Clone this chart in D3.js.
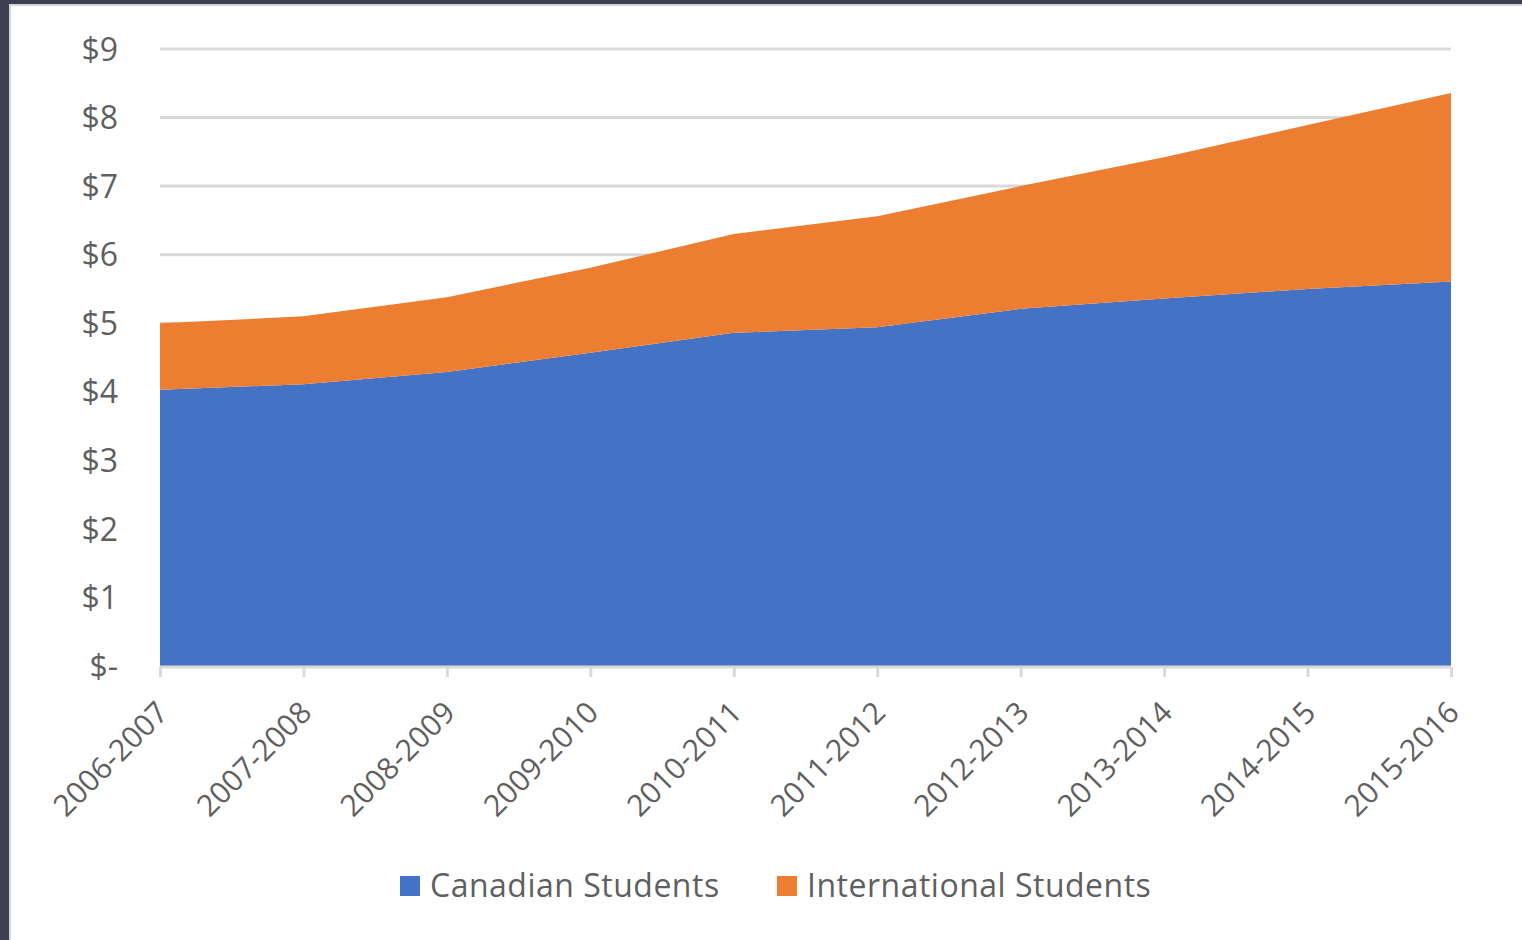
<!DOCTYPE html>
<html>
<head>
<meta charset="utf-8">
<script src="https://cdn.jsdelivr.net/npm/d3@7"></script>
<style>
  html, body { margin: 0; padding: 0; background: #3f3f53; }
  svg { display: block; }
</style>
</head>
<body>
<svg id="chart" width="1522" height="940"></svg>
<script>
// Tuition revenue (billions of dollars) by academic year
const years = ["2006-2007", "2007-2008", "2008-2009", "2009-2010", "2010-2011",
               "2011-2012", "2012-2013", "2013-2014", "2014-2015", "2015-2016"];
const canadian      = [4.03, 4.11, 4.29, 4.57, 4.86, 4.94, 5.21, 5.36, 5.50, 5.61];
const international = [0.97, 0.99, 1.09, 1.24, 1.44, 1.62, 1.79, 2.06, 2.39, 2.75];
const yTicks = [0, 1, 2, 3, 4, 5, 6, 7, 8, 9];
const seriesNames = ["Canadian Students", "International Students"];
const colors = ["#4472c4", "#ed7d31"];

const svg = d3.select("#chart");
const W = 1522, H = 940;

// panel background with a thin frame
svg.append("rect").attr("x", 0).attr("y", 0).attr("width", W).attr("height", H).attr("fill", "#3f3f53");
svg.append("rect").attr("x", 9).attr("y", 4).attr("width", W - 9).attr("height", H - 4).attr("fill", "#d6d6d6");
svg.append("rect").attr("x", 11).attr("y", 6).attr("width", W - 11).attr("height", H - 6).attr("fill", "#ffffff");

const plot = { left: 160, right: 1451, top: 49, bottom: 666 };
const x = d3.scalePoint().domain(years).range([plot.left, plot.right]);
const y = d3.scaleLinear().domain([0, 9]).range([plot.bottom, plot.top]);

const font = "'Open Sans', 'Noto Sans', sans-serif";
const textColor = "#5f5f5f";

// horizontal gridlines
svg.append("g").selectAll("line").data(yTicks.filter(d => d > 0)).join("line")
  .attr("x1", plot.left).attr("x2", plot.right)
  .attr("y1", d => y(d)).attr("y2", d => y(d))
  .attr("stroke", "#d9d9d9").attr("stroke-width", 3);

// stacked areas
const rows = years.map((yr, i) => ({ year: yr, c: canadian[i], n: international[i] }));
const stack = d3.stack().keys(["c", "n"]);
const layers = stack(rows);
const area = d3.area()
  .x(d => x(d.data.year))
  .y0(d => y(d[0]))
  .y1(d => y(d[1]));
svg.append("g").selectAll("path").data(layers).join("path")
  .attr("d", area)
  .attr("fill", (d, i) => colors[i]);

// y axis labels
const yAxis = d3.axisLeft(y).tickValues(yTicks)
  .tickFormat(d => d === 0 ? "$-" : "$" + d).tickSize(0).tickPadding(0);
const gy = svg.append("g").attr("transform", `translate(118,0)`).call(yAxis);
gy.select(".domain").remove();
gy.selectAll("text")
  .attr("font-family", font).attr("font-size", 32).attr("fill", textColor)
  .attr("dy", "0.35em");

// x axis
const xAxis = d3.axisBottom(x).tickSize(10).tickPadding(6);
const gx = svg.append("g").attr("transform", `translate(0,${plot.bottom + 1})`).call(xAxis);
gx.select(".domain").attr("stroke", "#d9d9d9").attr("stroke-width", 3)
  .attr("d", `M${plot.left},0H${plot.right}`);
gx.selectAll(".tick line").attr("stroke", "#d9d9d9").attr("stroke-width", 3);
gx.selectAll("text")
  .attr("font-family", font).attr("font-size", 30).attr("fill", textColor)
  .attr("text-anchor", "end")
  .attr("dy", "0.35em")
  .attr("transform", "translate(2,40) rotate(-45)")
  .attr("x", 0).attr("y", 0);

// legend
const legendItems = [
  { name: seriesNames[0], color: colors[0], x: 400 },
  { name: seriesNames[1], color: colors[1], x: 777 }
];
const lg = svg.append("g").selectAll("g").data(legendItems).join("g")
  .attr("transform", d => `translate(${d.x},876)`);
lg.append("rect").attr("width", 20).attr("height", 20).attr("fill", d => d.color);
lg.append("text").attr("x", 30).attr("y", 21)
  .attr("font-family", font).attr("font-size", 32).attr("fill", textColor)
  .attr("letter-spacing", 0.5)
  .text(d => d.name);
</script>
</body>
</html>
